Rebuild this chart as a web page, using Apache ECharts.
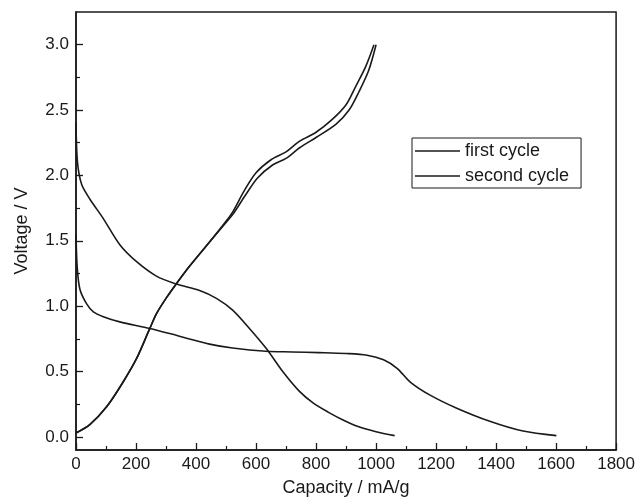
<!DOCTYPE html>
<html>
	<head>
		<meta charset="UTF-8">
		<title></title>
		<script src="https://cdn.jsdelivr.net/npm/echarts@6/dist/echarts.min.js" type="text/javascript" charset="utf-8"></script>
	</head>
	<style type="text/css">
		* {
			margin: 0;
			padding: 0;
		}
		#app {
			width: 638px;
			height: 502px;
			background: #fff;
		}
	</style>
	<body>
		<div id="app"></div>
		<script type="text/javascript">
			// capacity (mA/g), voltage (V)
			var discharge1 = [
				[0, 1.55], [4, 1.3], [13, 1.13], [35, 1.02], [58, 0.957], [91, 0.92], [146, 0.88],
				[246, 0.83], [345, 0.77], [445, 0.71], [522, 0.68], [633, 0.655], [720, 0.65],
				[810, 0.645], [900, 0.638], [970, 0.625], [1025, 0.59], [1070, 0.525], [1114, 0.42],
				[1180, 0.32], [1269, 0.22], [1379, 0.12], [1490, 0.045], [1601, 0.01]
			];
			var charge1 = [
				[0, 0.03], [46, 0.094], [102, 0.23], [157, 0.42], [202, 0.6], [246, 0.83],
				[270, 0.95], [300, 1.06], [334, 1.17], [373, 1.29], [434, 1.46], [500, 1.64],
				[522, 1.7], [565, 1.85], [605, 1.98], [655, 2.08], [700, 2.13], [744, 2.21],
				[800, 2.29], [866, 2.39], [910, 2.5], [943, 2.64], [975, 2.8], [1000, 3.0]
			];
			var discharge2 = [
				[0, 2.4], [5, 2.1], [19, 1.93], [46, 1.82], [91, 1.67], [146, 1.47], [202, 1.34],
				[268, 1.23], [334, 1.17], [412, 1.12], [468, 1.06], [522, 0.97], [578, 0.83],
				[633, 0.68], [689, 0.5], [744, 0.35], [790, 0.26], [840, 0.19], [890, 0.13],
				[940, 0.08], [1000, 0.04], [1062, 0.01]
			];
			var charge2 = [
				[0, 0.03], [46, 0.094], [102, 0.23], [157, 0.42], [202, 0.6], [246, 0.83],
				[270, 0.95], [300, 1.06], [334, 1.17], [373, 1.29], [434, 1.46], [500, 1.65],
				[522, 1.72], [560, 1.88], [600, 2.02], [650, 2.12], [700, 2.18], [744, 2.26],
				[800, 2.33], [855, 2.43], [900, 2.54], [932, 2.68], [965, 2.83], [993, 3.0]
			];
			var yMajorTicks = [0, 0.5, 1.0, 1.5, 2.0, 2.5, 3.0];
			var yMinorTicks = [0.25, 0.75, 1.25, 1.75, 2.25, 2.75];
			var legendNames = ['first cycle', 'second cycle'];

			var ink = '#1a1a1a';
			var font = 'Liberation Sans';

			function curve(name, data) {
				return {
					name: name,
					type: 'line',
					data: data,
					symbol: 'none',
					smooth: 0.3,
					lineStyle: { color: ink, width: 1.6 },
					itemStyle: { color: ink }
				};
			}

			var myChart = echarts.init(document.getElementById("app"));

			var option = {
				animation: false,
				backgroundColor: '#fff',
				textStyle: { fontFamily: font, color: ink },
				grid: {
					left: 76, right: 20, top: 12, bottom: 49,
					show: true, borderColor: ink, borderWidth: 1.5
				},
				legend: {
					data: legendNames,
					orient: 'vertical',
					left: 412, top: 138,
					padding: [4, 12, 3, 3],
					itemGap: 7,
					icon: 'rect',
					itemWidth: 45, itemHeight: 1.5,
					borderColor: ink, borderWidth: 1,
					textStyle: { fontFamily: font, fontSize: 18, color: ink, lineHeight: 18 }
				},
				xAxis: {
					type: 'value',
					min: 0, max: 1800, interval: 200,
					name: 'Capacity / mA/g',
					nameLocation: 'middle',
					nameGap: 29,
					nameTextStyle: { fontFamily: font, fontSize: 18, color: ink },
					axisLine: { onZero: false, lineStyle: { color: ink, width: 1.5 } },
					axisTick: { inside: true, length: 7, lineStyle: { color: ink, width: 1.3 } },
					minorTick: { show: true, splitNumber: 2, length: 4, lineStyle: { color: ink, width: 1.2 } },
					axisLabel: {
						fontFamily: font, fontSize: 17, color: ink, margin: 6,
						formatter: function (v) { return String(v); }
					},
					splitLine: { show: false }
				},
				yAxis: [{
					type: 'value',
					min: -0.1, max: 3.25,
					name: 'Voltage / V',
					nameLocation: 'middle',
					nameGap: 45,
					nameTextStyle: { fontFamily: font, fontSize: 18, color: ink },
					axisLine: { show: true, onZero: false, lineStyle: { color: ink, width: 1.5 } },
					axisTick: { show: true, inside: true, length: 7, customValues: yMajorTicks, lineStyle: { color: ink, width: 1.3 } },
					axisLabel: {
						fontFamily: font, fontSize: 17, color: ink, margin: 7,
						customValues: yMajorTicks,
						formatter: function (v) { return v.toFixed(1); }
					},
					splitLine: { show: false }
				}, {
					type: 'value',
					position: 'left',
					min: -0.1, max: 3.25,
					axisLine: { show: false, onZero: false },
					axisTick: { show: true, inside: true, length: 4, customValues: yMinorTicks, lineStyle: { color: ink, width: 1.2 } },
					axisLabel: { show: false },
					splitLine: { show: false }
				}],
				series: [
					curve(legendNames[0], discharge1),
					curve(legendNames[0], charge1),
					curve(legendNames[1], discharge2),
					curve(legendNames[1], charge2)
				]
			};

			myChart.setOption(option);
		</script>
	</body>
</html>
